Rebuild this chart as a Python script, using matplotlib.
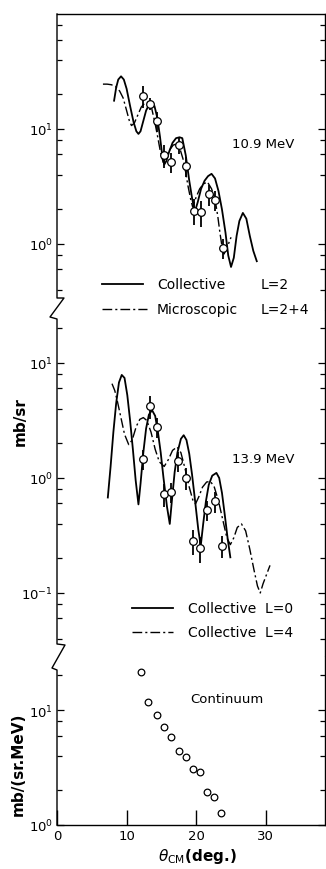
import numpy as np
import matplotlib.pyplot as plt
from matplotlib.lines import Line2D
from matplotlib.ticker import FixedLocator, LogLocator, NullFormatter

plt.rcParams['font.family'] = ['DejaVu Sans']

# ---- 10.9 MeV panel ----
ang_109 = [12.3, 13.3, 14.3, 15.4, 16.4, 17.5, 18.6, 19.7, 20.7, 21.8, 22.7, 23.8]
xs_109 = [19.5, 16.5, 11.8, 5.9, 5.2, 7.2, 4.8, 1.95, 1.89, 2.7, 2.4, 0.92]
err_109 = [0.22, 0.12, 0.2, 0.22, 0.2, 0.15, 0.2, 0.25, 0.25, 0.2, 0.2, 0.2]

# collective L=2 (log10 of mb/sr)
coll2_x = [8.2, 8.5, 8.8, 9.2, 9.6, 10.0, 10.5, 11.0, 11.4, 11.7, 12.0, 12.4, 12.8, 13.2,
           13.6, 14.0, 14.4, 14.8, 15.1, 15.4, 15.7, 16.1, 16.6, 17.1, 17.6, 18.0, 18.5,
           19.0, 19.4, 19.8, 20.2, 20.7, 21.2, 21.7, 22.2, 22.7, 23.2, 23.7, 24.2, 24.6,
           25.0, 25.4, 25.8, 26.2, 26.7, 27.2, 27.7, 28.2, 28.7]
coll2_log = [1.246, 1.36, 1.43, 1.458, 1.43, 1.35, 1.20, 1.06, 0.98, 0.957, 0.98, 1.07, 1.16, 1.21,
             1.226, 1.20, 1.10, 0.93, 0.78, 0.69, 0.72, 0.80, 0.88, 0.92, 0.928, 0.92, 0.77,
             0.55, 0.40, 0.28, 0.36, 0.48, 0.55, 0.59, 0.61, 0.57, 0.46, 0.30, 0.10, -0.10,
             -0.20, -0.12, 0.07, 0.20, 0.27, 0.22, 0.07, -0.06, -0.15]

# microscopic L=2+4
micro_x = [6.6, 7.2, 7.8, 8.4, 9.0, 9.5, 10.0, 10.4, 10.7, 11.1, 11.6, 12.1, 12.6, 13.1,
           13.6, 14.05, 14.5, 14.8, 15.25, 15.7, 16.2, 16.7, 17.2, 17.7, 18.1, 18.5, 18.8,
           19.2, 19.5, 20.0, 20.5, 21.0, 21.6, 22.2, 22.7, 23.1, 23.4, 23.7, 24.0, 24.5, 25.0]
micro_log = [1.39, 1.39, 1.385, 1.37, 1.33, 1.27, 1.16, 1.07, 1.03, 1.05, 1.12, 1.19, 1.225, 1.232,
             1.18, 1.06, 0.92, 0.82, 0.71, 0.76, 0.82, 0.86, 0.87, 0.82, 0.74, 0.62, 0.51,
             0.39, 0.32, 0.41, 0.48, 0.52, 0.54, 0.48, 0.39, 0.24, 0.10, -0.02, -0.087, -0.02, 0.058]

# ---- 13.9 MeV panel ----
ang_139 = [12.3, 13.3, 14.3, 15.4, 16.4, 17.4, 18.5, 19.5, 20.6, 21.6, 22.7, 23.7]
xs_139 = [1.47, 4.2, 2.77, 0.72, 0.755, 1.40, 1.0, 0.285, 0.245, 0.525, 0.625, 0.256]
err_139 = [0.2, 0.22, 0.2, 0.22, 0.2, 0.2, 0.22, 0.25, 0.25, 0.2, 0.2, 0.22]

coll0_x = [7.3, 7.7, 8.1, 8.5, 8.9, 9.3, 9.7, 10.1, 10.5, 10.9, 11.3, 11.7, 12.0, 12.4, 12.8,
           13.2, 13.65, 14.1, 14.5, 14.9, 15.3, 15.8, 16.2, 16.5, 16.9, 17.3, 17.8, 18.2,
           18.6, 19.0, 19.4, 19.8, 20.3, 20.65, 21.0, 21.4, 21.8, 22.3, 22.9, 23.3, 23.7,
           24.1, 24.5, 24.9]
coll0_log = [-0.17, 0.10, 0.40, 0.65, 0.83, 0.896, 0.87, 0.72, 0.50, 0.25, -0.02, -0.23, -0.05,
             0.22, 0.43, 0.55, 0.59, 0.54, 0.40, 0.22, 0.00, -0.25, -0.40, -0.20, 0.05, 0.22,
             0.34, 0.372, 0.33, 0.21, 0.03, -0.18, -0.45, -0.59, -0.40, -0.20, -0.06, 0.02,
             0.044, 0.00, -0.13, -0.32, -0.52, -0.69]

coll4_x = [7.9, 8.3, 8.7, 9.2, 9.7, 10.3, 10.8, 11.4, 11.9, 12.4, 12.9, 13.5, 14.1, 14.7,
           15.4, 16.0, 16.6, 17.25, 17.8, 18.4, 19.0, 19.5, 19.9, 20.4, 20.9, 21.5, 22.05,
           22.6, 23.2, 23.8, 24.4, 24.9, 25.4, 25.9, 26.5, 27.1, 27.7, 28.3, 28.8, 29.2,
           29.6, 30.1, 30.6]
coll4_log = [0.82, 0.76, 0.66, 0.52, 0.38, 0.29, 0.33, 0.45, 0.51, 0.525, 0.50, 0.40, 0.25, 0.14,
             0.10, 0.16, 0.24, 0.27, 0.22, 0.08, -0.08, -0.19, -0.225, -0.16, -0.08, -0.035,
             -0.03, -0.08, -0.20, -0.36, -0.52, -0.58, -0.52, -0.43, -0.40, -0.46, -0.62,
             -0.80, -0.94, -1.0, -0.92, -0.84, -0.76]

# ---- continuum ----
ang_cont = [12.1, 13.1, 14.3, 15.4, 16.4, 17.5, 18.5, 19.5, 20.6, 21.6, 22.6, 23.6]
xs_cont = [21.5, 11.8, 9.1, 7.1, 5.8, 4.4, 3.9, 3.07, 2.87, 1.95, 1.75, 1.28]

W, H = 326, 870
fig = plt.figure(figsize=(W / 100, H / 100), dpi=100)


def fx(px):
    return px / W


def fy(py):
    return 1 - py / H


L, R = 57, 325
ax1 = fig.add_axes([fx(L), fy(312), (R - L) / W, (312 - 15) / H])
ax2 = fig.add_axes([fx(L), fy(658), (R - L) / W, (658 - 312) / H])
ax3 = fig.add_axes([fx(L), fy(826), (R - L) / W, (826 - 658) / H])

dashdot = (0, (7, 2.2, 1.5, 2.2))

# top panel
ax1.plot(coll2_x, 10 ** np.array(coll2_log), color='k', lw=1.3)
ax1.plot(micro_x, 10 ** np.array(micro_log), color='k', lw=1.0, ls=dashdot)
v = np.array(xs_109)
ax1.errorbar(ang_109, v, yerr=v * np.array(err_109), fmt='o', color='k', ms=5.5,
             mfc='white', mec='k', mew=0.9, elinewidth=1.3, capsize=0, zorder=5)

# middle panel
ax2.plot(coll0_x, 10 ** np.array(coll0_log), color='k', lw=1.3)
ax2.plot(coll4_x, 10 ** np.array(coll4_log), color='k', lw=1.0, ls=dashdot)
v = np.array(xs_139)
ax2.errorbar(ang_139, v, yerr=v * np.array(err_139), fmt='o', color='k', ms=5.5,
             mfc='white', mec='k', mew=0.9, elinewidth=1.3, capsize=0, zorder=5)

# bottom panel
ax3.plot(ang_cont, xs_cont, 'o', ms=4.8, mfc='white', mec='k', mew=0.9)

for ax, majors in ((ax1, [1, 10]), (ax2, [0.1, 1, 10]), (ax3, [1, 10])):
    ax.set_yscale('log')
    ax.set_xlim(0, 38.5)
    ax.yaxis.set_major_locator(FixedLocator(majors))
    ax.yaxis.set_minor_locator(LogLocator(base=10, subs=(2, 4, 6, 8)))
    ax.yaxis.set_minor_formatter(NullFormatter())
    ax.tick_params(axis='y', which='major', direction='in', left=True, right=True,
                   length=5, width=0.9, labelsize=9.5, pad=3)
    ax.tick_params(axis='y', which='minor', direction='in', left=True, right=True,
                   length=3.5, width=0.9)
    ax.spines['left'].set_visible(False)
    for s in ax.spines.values():
        s.set_linewidth(1.0)

ax1.set_ylim(10 ** -0.583, 100)
ax2.set_ylim(10 ** -1.557, 10 ** 1.452)
ax3.set_ylim(1, 10 ** 1.461)

ax1.spines['bottom'].set_visible(False)
ax2.spines['top'].set_visible(False)
ax2.spines['bottom'].set_visible(False)
ax3.spines['top'].set_visible(False)
for ax in (ax1, ax2):
    ax.tick_params(axis='x', which='both', bottom=False, top=False, labelbottom=False)
ax3.set_xticks([0, 10, 20, 30])
ax3.tick_params(axis='x', direction='in', length=11, width=1.0, top=False,
                labelsize=9.5, pad=3)

# left border with axis breaks
bx = [57, 57, 64, 50, 57, 57, 65, 52, 57, 57]
by = [15, 299, 299, 318, 320, 645, 646, 669, 671, 826]
fig.add_artist(Line2D([fx(p) for p in bx], [fy(p) for p in by],
                      transform=fig.transFigure, color='k', lw=1.0))

# legends
def leg_line(x0, x1, y, ls, lw):
    fig.add_artist(Line2D([fx(x0), fx(x1)], [fy(y), fy(y)], transform=fig.transFigure,
                          color='k', lw=lw, ls=ls))


leg_line(102, 143, 285, '-', 1.3)
leg_line(102, 147, 310, dashdot, 1.0)
fig.text(fx(157), fy(285), 'Collective', fontsize=10, va='center')
fig.text(fx(157), fy(310), 'Microscopic', fontsize=10, va='center')
fig.text(fx(261), fy(285), 'L=2', fontsize=10, va='center')
fig.text(fx(261), fy(310), 'L=2+4', fontsize=10, va='center')

leg_line(132, 173, 609, '-', 1.3)
leg_line(132, 173, 633, dashdot, 1.0)
fig.text(fx(188), fy(609), 'Collective  L=0', fontsize=10, va='center')
fig.text(fx(188), fy(633), 'Collective  L=4', fontsize=10, va='center')

fig.text(fx(232), fy(145), '10.9 MeV', fontsize=9.5, va='center')
fig.text(fx(232), fy(460), '13.9 MeV', fontsize=9.5, va='center')
fig.text(fx(190), fy(700), 'Continuum', fontsize=9.5, va='center')

fig.text(fx(20), fy(422), 'mb/sr', rotation=90, fontsize=11, fontweight='bold',
         ha='center', va='center')
fig.text(fx(18), fy(764), 'mb/(sr.MeV)', rotation=90, fontsize=11, fontweight='bold',
         ha='center', va='center')
fig.text(fx(198), fy(857), r'$\theta_{\rm CM}$(deg.)', fontsize=11, fontweight='bold',
         ha='center', va='center')

fig.savefig('out.png', dpi=100, facecolor='white')
